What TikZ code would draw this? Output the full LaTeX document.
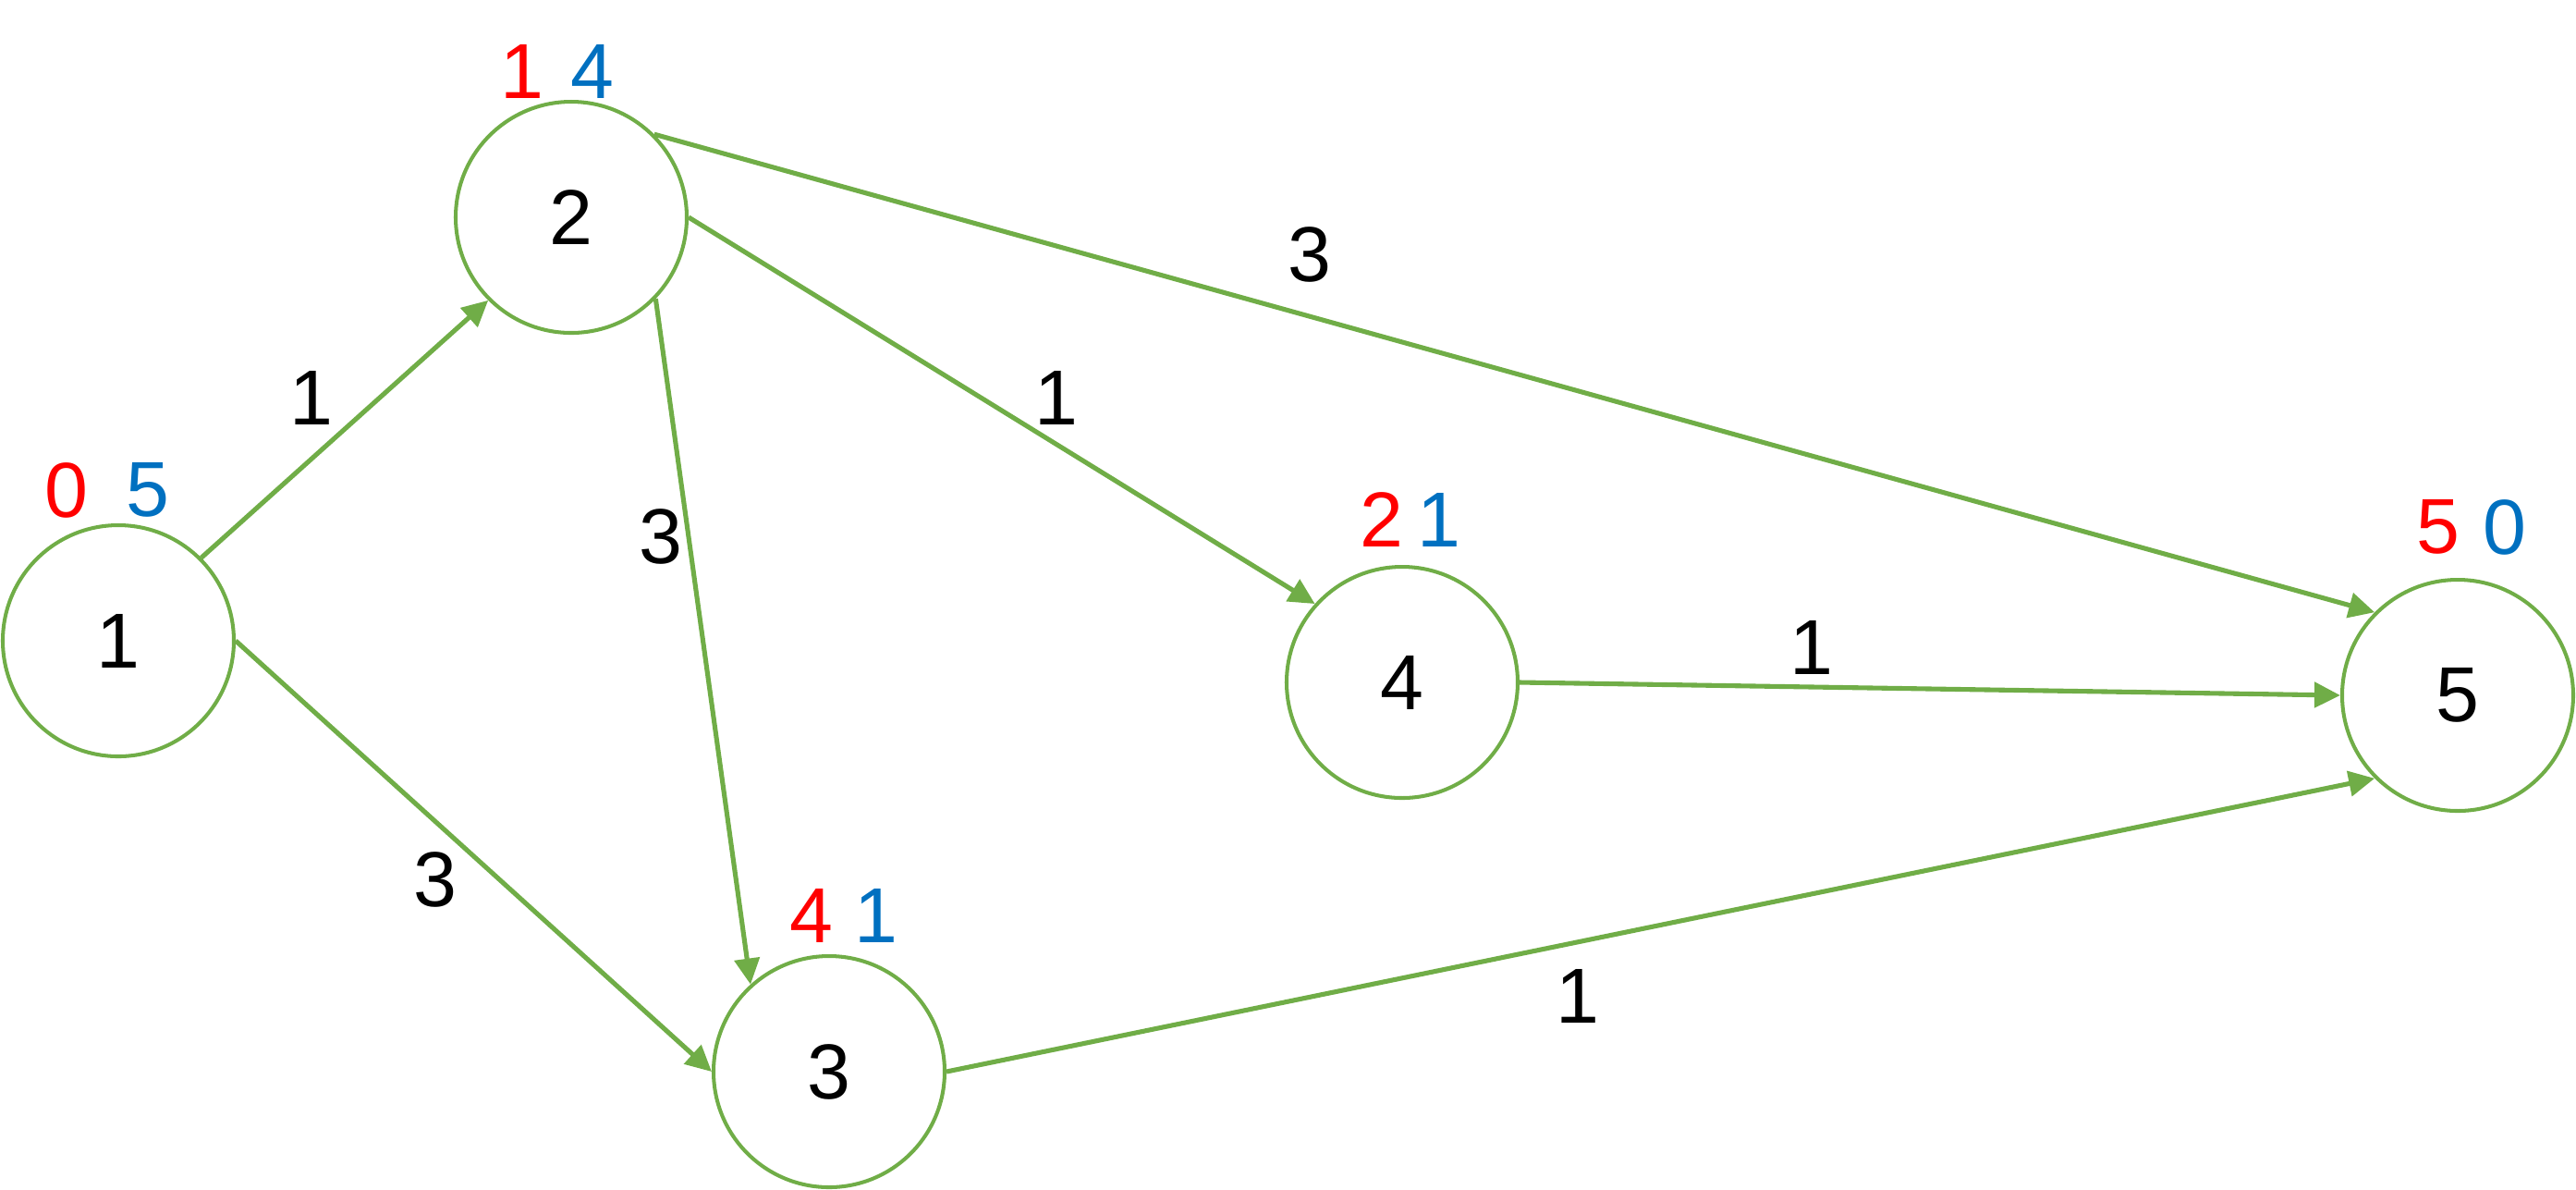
\documentclass[tikz,border=0pt]{standalone}
\usepackage{fontspec}
\setmainfont{Liberation Sans}
\usepackage{tikz}
\usetikzlibrary{arrows.meta}
\definecolor{edgegreen}{HTML}{70AD47}
\definecolor{estred}{HTML}{FF0000}
\definecolor{latblue}{HTML}{0070C0}
\tikzset{
  vertex/.style={circle, draw=edgegreen, line width=1.15pt, inner sep=0pt,
                 minimum size=2.5cm, font=\fontsize{24}{28}\selectfont},
  arc/.style={draw=edgegreen, line width=1.45pt,
              -{Triangle[length=2.8mm,width=2.7mm]}},
  weight/.style={font=\fontsize{24}{28}\selectfont, inner sep=0pt},
  early/.style={weight, text=estred},
  late/.style={weight, text=latblue}
}

\begin{document}
\begin{tikzpicture}
   \useasboundingbox (0,0) rectangle (27.87,-12.86);

   % vertices
   \node[vertex] (n1) at (1.28,-6.93) {1};
   \node[vertex] (n2) at (6.18,-2.35) {2};
   \node[vertex] (n3) at (8.97,-11.59) {3};
   \node[vertex] (n4) at (15.17,-7.38) {4};
   \node[vertex] (n5) at (26.59,-7.52) {5};

   % earliest / latest times
   \node[early] (e1) at (0.72,-5.30) {0};
   \node[late]  (l1) at (1.60,-5.30) {5};
   \node[early] (e2) at (5.65,-0.77) {1};
   \node[late]  (l2) at (6.41,-0.77) {4};
   \node[early] (e3) at (8.78,-9.90) {4};
   \node[late]  (l3) at (9.48,-9.90) {1};
   \node[early] (e4) at (14.95,-5.62) {2};
   \node[late]  (l4) at (15.57,-5.62) {1};
   \node[early] (e5) at (26.38,-5.70) {5};
   \node[late]  (l5) at (27.10,-5.70) {0};

   % activities
   \draw[arc] (n1.45)   -- (n2.225);
   \draw[arc] (n1.east) -- (n3.west);
   \draw[arc] (n2.-44)  -- (n3.132);
   \draw[arc] (n2.east) -- (n4.138);
   \draw[arc] (n2.45)   -- (n5.135);
   \draw[arc] (n4.east) -- (n5.west);
   \draw[arc] (n3.east) -- (n5.225);

   % durations
   \node[weight] (w12) at (3.37,-4.30) {1};
   \node[weight] (w13) at (4.71,-9.51) {3};
   \node[weight] (w23) at (7.15,-5.80) {3};
   \node[weight] (w24) at (11.43,-4.30) {1};
   \node[weight] (w25) at (14.17,-2.75) {3};
   \node[weight] (w45) at (19.60,-7.00) {1};
   \node[weight] (w35) at (17.07,-10.77) {1};
\end{tikzpicture}
\end{document}
